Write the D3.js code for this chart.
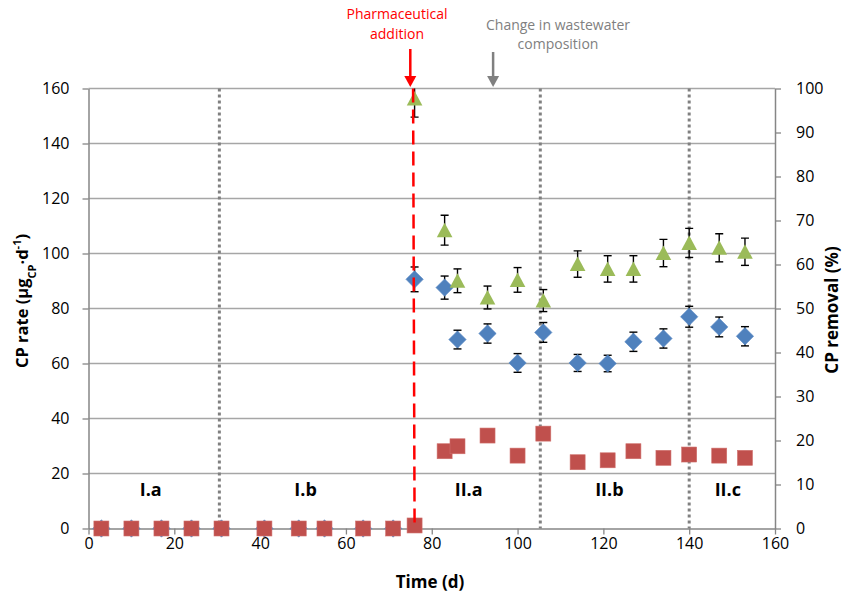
<!DOCTYPE html>
<html>
<head>
<meta charset="utf-8">
<script src="https://cdn.jsdelivr.net/npm/d3@7/dist/d3.min.js"></script>
<style>
  html, body { margin: 0; padding: 0; background: #fff; }
  svg { display: block; font-family: "Open Sans", "Noto Sans", sans-serif; }
</style>
</head>
<body>
<svg id="chart" width="842" height="596"></svg>
<script>
// ---------- data ----------
const timeDays = [3,10,17,24,31,41,49,55,64,71,76,83,86,93,100,106,114,121,127,134,140,147,153];
const squareRate = [0,0,0,0,0,0,0,0,0,0,1.1,28.1,29.9,33.8,26.5,34.5,24.1,24.8,28.1,25.7,26.9,26.5,25.7];
const diamondRate = [0,0,0,0,0,0,0,0,0,0,90.6,87.6,68.7,70.9,60.2,71.3,60.2,60.0,67.9,69.1,77.0,73.3,69.9];
const diamondErr  = [0,0,0,0,0,0,0,0,0,0,4.5,4.2,3.4,3.5,3.4,3.6,3.1,3.0,3.5,3.5,3.8,3.6,3.5];
const removalPct = [null,null,null,null,null,null,null,null,null,null,97.7,67.8,56.3,52.5,56.5,51.8,60.1,59.0,59.0,62.6,64.9,63.8,62.9];
const removalErr = [null,null,null,null,null,null,null,null,null,null,4.2,3.4,2.7,2.6,2.8,2.5,3.0,3.0,3.0,3.1,3.3,3.2,3.1];

const xTicks = [0,20,40,60,80,100,120,140,160];
const yLeftTicks = [0,20,40,60,80,100,120,140,160];
const yRightTicks = [0,10,20,30,40,50,60,70,80,90,100];

const phaseBoundaries = [30.5, 105.3, 140];
const phaseLabels = ["I.a","I.b","II.a","II.b","II.c"];
const phaseLabelX = [14.5, 50.6, 88.6, 121.4, 149];
const phaseLabelY = 14; // in left-axis units

const additionDay = 76;
const additionArrowDay = 75;
const compositionArrowDay = 94.3;

// ---------- layout ----------
const svg = d3.select("#chart");
const L = 88.5, R = 775, T = 88.5, B = 528.5;
const x = d3.scaleLinear().domain([0,160]).range([L,R]);
const yL = d3.scaleLinear().domain([0,160]).range([B,T]);
const yR = d3.scaleLinear().domain([0,100]).range([B,T]);

const gridCol = "#a6a6a6", axisCol = "#868686";

svg.append("defs").append("clipPath").attr("id","plotclip")
  .append("rect").attr("x",L-20).attr("y",T).attr("width",R-L+40).attr("height",B-T+20);

// gridlines
svg.append("g").selectAll("line").data(yLeftTicks.filter(d=>d>0)).join("line")
  .attr("x1",L).attr("x2",R).attr("y1",d=>yL(d)).attr("y2",d=>yL(d))
  .attr("stroke",gridCol).attr("stroke-width",1.3);

// axes
function styleAxis(g){
  g.select(".domain").attr("stroke",axisCol).attr("stroke-width",1.5);
  g.selectAll(".tick line").attr("stroke",axisCol).attr("stroke-width",1.3);
  g.selectAll(".tick text").attr("fill","#000").style("font-size","16px")
   .style("font-family","'Open Sans', sans-serif");
}
svg.append("g").attr("transform",`translate(${L},0)`)
  .call(d3.axisLeft(yL).tickValues(yLeftTicks).tickSize(6).tickPadding(13).tickSizeOuter(0))
  .call(styleAxis);
svg.append("g").attr("transform",`translate(${R},0)`)
  .call(d3.axisRight(yR).tickValues(yRightTicks).tickSize(6).tickPadding(15).tickSizeOuter(0))
  .call(styleAxis);
svg.append("g").attr("transform",`translate(0,${B})`)
  .call(d3.axisBottom(x).tickValues(xTicks).tickSize(6).tickPadding(3).tickSizeOuter(0))
  .call(styleAxis);

// phase boundaries (dotted)
svg.append("g").selectAll("line").data(phaseBoundaries).join("line")
  .attr("x1",d=>x(d)).attr("x2",d=>x(d)).attr("y1",T).attr("y2",B)
  .attr("stroke","#808080").attr("stroke-width",3).attr("stroke-dasharray","3,3");

// phase labels
svg.append("g").selectAll("text").data(phaseLabels).join("text")
  .attr("x",(d,i)=>x(phaseLabelX[i])).attr("y",yL(phaseLabelY)).attr("dy","0.35em")
  .attr("text-anchor","middle").style("font-size","18px").style("font-weight","bold")
  .text(d=>d);

// series
const idx = d3.range(timeDays.length);
const plot = svg.append("g");

// diamond error bars
const dE = idx.filter(i=>diamondErr[i]>0);
const errG = svg.append("g").attr("clip-path","url(#plotclip)")
  .attr("stroke","#000").attr("stroke-width",1.4).attr("fill","none");
function errBars(g, ids, ys, vals, errs){
  ids.forEach(i=>{
    const cx = x(timeDays[i]);
    const y1 = ys(vals[i]+errs[i]), y2 = ys(vals[i]-errs[i]);
    g.append("line").attr("x1",cx).attr("x2",cx).attr("y1",y1).attr("y2",y2);
    g.append("line").attr("x1",cx-4).attr("x2",cx+4).attr("y1",y1).attr("y2",y1);
    g.append("line").attr("x1",cx-4).attr("x2",cx+4).attr("y1",y2).attr("y2",y2);
  });
}
errBars(errG, dE, yL, diamondRate, diamondErr);

// diamonds
svg.append("g").selectAll("path").data(idx).join("path")
  .attr("d", d3.symbol().type(d3.symbolSquare).size(150)())
  .attr("transform",i=>`translate(${x(timeDays[i])},${yL(diamondRate[i])}) rotate(45)`)
  .attr("fill","#4F81BD").attr("stroke","#5a8ac4").attr("stroke-width",0.6);

// squares
svg.append("g").selectAll("rect").data(idx).join("rect")
  .attr("x",i=>x(timeDays[i])-7.5).attr("y",i=>yL(squareRate[i])-7.5)
  .attr("width",15).attr("height",15)
  .attr("fill","#C0504D").attr("stroke","#cf6f6c").attr("stroke-width",0.6);

// removal error bars + triangles
const gIdx = idx.filter(i=>removalPct[i]!=null);
const errG2 = svg.append("g").attr("clip-path","url(#plotclip)")
  .attr("stroke","#000").attr("stroke-width",1.4).attr("fill","none");
errBars(errG2, gIdx, yR, removalPct, removalErr);
svg.append("g").selectAll("path").data(gIdx).join("path")
  .attr("d","M0,-7.5L7.8,7L-7.8,7Z")
  .attr("transform",i=>`translate(${x(timeDays[i])},${yR(removalPct[i])})`)
  .attr("fill","#9BBB59");

// pharmaceutical addition dashed line
svg.append("line")
  .attr("x1",x(additionDay)-1.5).attr("x2",x(additionDay)).attr("y1",T).attr("y2",B)
  .attr("stroke","#FF0000").attr("stroke-width",2.5).attr("stroke-dasharray","14,7");

// arrows
function arrow(xv, color, y0, y1){
  const cx = x(xv);
  svg.append("line").attr("x1",cx).attr("x2",cx).attr("y1",y0).attr("y2",y1-9)
    .attr("stroke",color).attr("stroke-width",2.5);
  svg.append("path").attr("d",`M${cx-6},${y1-11}L${cx+6},${y1-11}L${cx},${y1}Z`).attr("fill",color);
}
arrow(additionArrowDay, "#FF0000", 49, 87);
arrow(compositionArrowDay, "#808080", 52, 87);

// annotations
const ann1 = svg.append("text").attr("text-anchor","middle").attr("fill","#FF0000")
  .style("font-size","14px");
ann1.append("tspan").attr("x",397).attr("y",19).text("Pharmaceutical");
ann1.append("tspan").attr("x",397).attr("y",39).text("addition");
const ann2 = svg.append("text").attr("text-anchor","middle").attr("fill","#808080")
  .style("font-size","14px");
ann2.append("tspan").attr("x",558).attr("y",30).text("Change in wastewater");
ann2.append("tspan").attr("x",558).attr("y",49).text("composition");

// axis titles
const lt = svg.append("text").attr("transform","translate(28,301) rotate(-90)")
  .attr("text-anchor","middle").style("font-size","16.5px").style("font-weight","bold");
lt.append("tspan").text("CP rate (µg");
lt.append("tspan").attr("baseline-shift","sub").style("font-size","11px").text("CP");
lt.append("tspan").text("·d");
lt.append("tspan").attr("baseline-shift","super").style("font-size","11px").text("-1");
lt.append("tspan").text(")");

svg.append("text").attr("transform","translate(838,310) rotate(-90)")
  .attr("text-anchor","middle").style("font-size","17px").style("font-weight","bold")
  .text("CP removal (%)");

svg.append("text").attr("x",430).attr("y",588).attr("text-anchor","middle")
  .style("font-size","17px").style("font-weight","bold").text("Time (d)");
</script>
</body>
</html>
